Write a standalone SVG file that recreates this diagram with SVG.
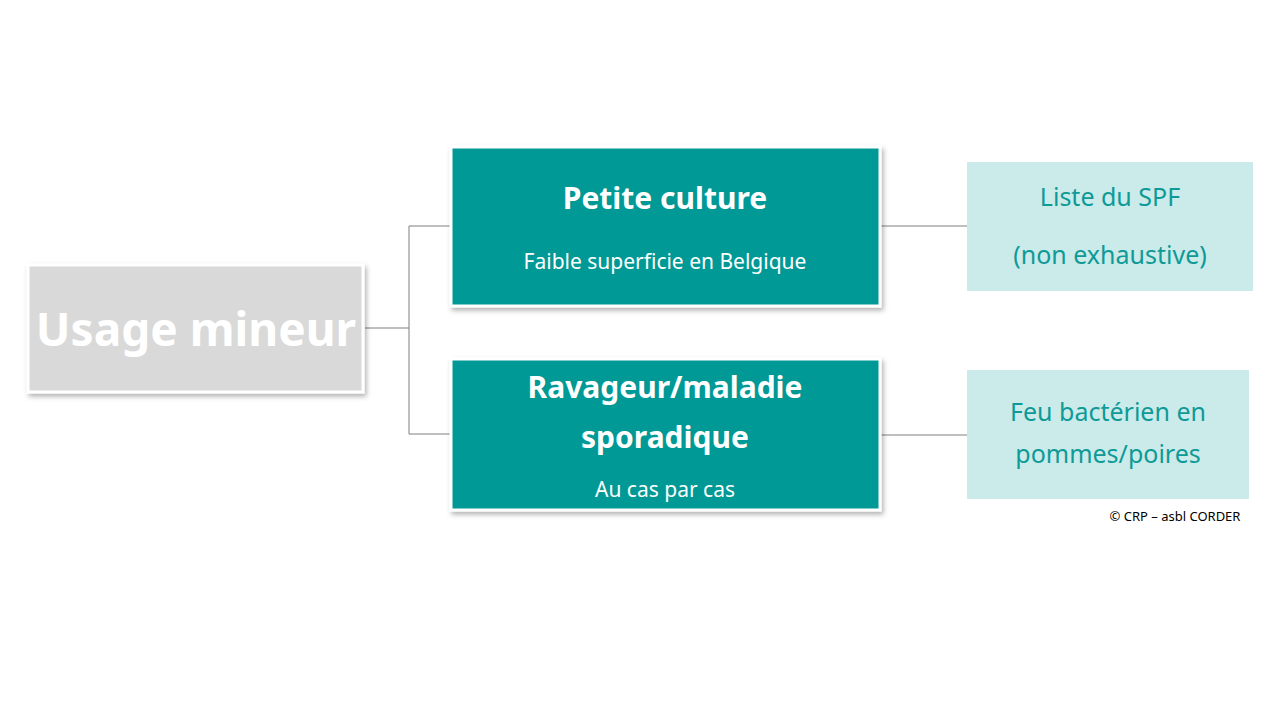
<svg xmlns="http://www.w3.org/2000/svg" width="1280" height="720" viewBox="0 0 1280 720">
<defs>
<style>
text{font-family:"Noto Sans","Open Sans","DejaVu Sans",sans-serif;text-anchor:middle}
.teal{fill:#009995;stroke:#fff;stroke-width:3}
.light{fill:#CBEAEA}
.wt{fill:#fff}
.tt{fill:#0E9A96}
.ln{stroke:#7f7f7f;stroke-width:1;fill:none}
</style>
<filter id="sh" x="-10%" y="-10%" width="130%" height="130%"><feDropShadow dx="2" dy="3" stdDeviation="2.5" flood-color="#000" flood-opacity="0.3"/></filter>
</defs>
<rect width="1280" height="720" fill="#fff"/>
<g id="connectors">
<path class="ln" d="M365 328H409M409 226V434M409 226H451M409 434H451M880 226H967M880 435H967"/>
</g>
<g id="usage">
<rect x="28" y="265" width="335" height="127" fill="#D9D9D9" stroke="#fff" stroke-width="3" filter="url(#sh)"/>
<text x="196" y="346" class="wt" font-size="46" font-weight="bold">Usage mineur</text>
</g>
<g id="petite">
<rect x="451" y="147" width="429" height="159" class="teal" filter="url(#sh)"/>
<text x="665" y="209" class="wt" font-size="30" font-weight="bold">Petite culture</text>
<text x="665" y="269" class="wt" font-size="21">Faible superficie en Belgique</text>
</g>
<g id="ravageur">
<rect x="451" y="359" width="429" height="151" class="teal" filter="url(#sh)"/>
<text x="665" y="398" class="wt" font-size="30" font-weight="bold">Ravageur/maladie</text>
<text x="665" y="448" class="wt" font-size="30" font-weight="bold">sporadique</text>
<text x="665" y="497" class="wt" font-size="21">Au cas par cas</text>
</g>
<g id="liste">
<rect x="967" y="162" width="286" height="129" class="light"/>
<text x="1110" y="206" class="tt" font-size="25">Liste du SPF</text>
<text x="1110" y="264" class="tt" font-size="25">(non exhaustive)</text>
</g>
<g id="feu">
<rect x="967" y="370" width="282" height="129" class="light"/>
<text x="1108" y="421" class="tt" font-size="25">Feu bactérien en</text>
<text x="1108" y="463" class="tt" font-size="25">pommes/poires</text>
</g>
<text x="1175" y="521" font-size="13" fill="#000">© CRP – asbl CORDER</text>
</svg>
